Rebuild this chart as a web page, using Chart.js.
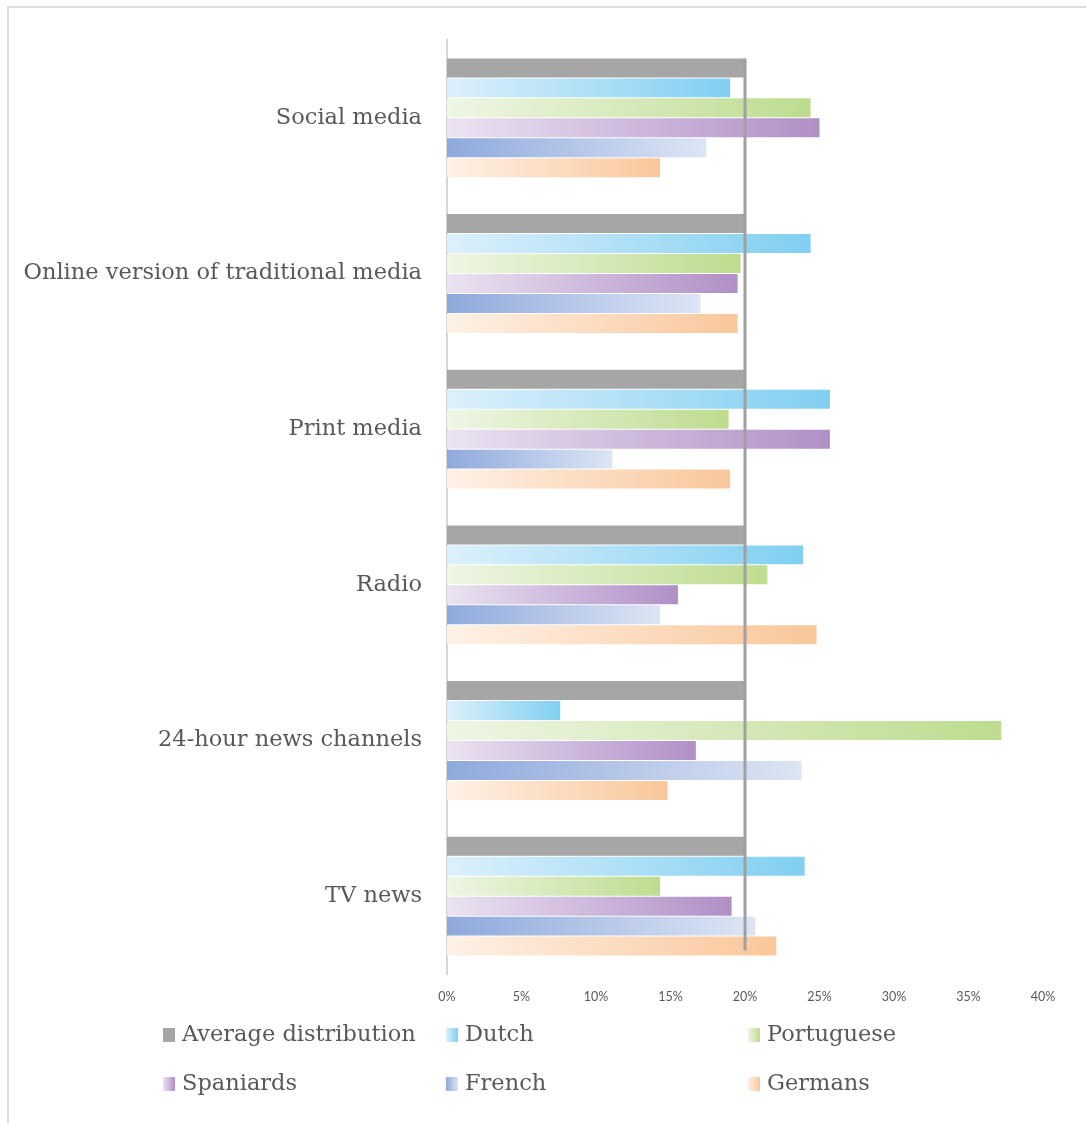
<!DOCTYPE html>
<html lang="en">
<head>
    <meta charset="UTF-8">
    <title>News sources by nationality</title>
    <script src="https://cdn.jsdelivr.net/npm/chart.js"></script>
    <style>
        html, body {
            margin: 0;
            background-color: #ffffff;
            overflow: hidden;
        }
        .page {
            width: 1086px;
            height: 1123px;
            position: relative;
            overflow: hidden;
        }
        .frame {
            position: absolute;
            left: 7px;
            top: 6px;
            width: 1300px;
            height: 1300px;
            border-left: 2px solid #dcdcdc;
            border-top: 2px solid #dcdcdc;
        }
        .chart-box {
            position: absolute;
            left: 0;
            top: 0;
            width: 1086px;
            height: 1014px;
        }
        #legend {
            position: absolute;
            left: 163px;
            top: 1008px;
            display: grid;
            grid-template-columns: 283px 302px 220px;
            grid-auto-rows: 49px;
            align-items: center;
            font-family: "DejaVu Serif", serif;
            font-size: 22.5px;
            color: #595959;
        }
        .swatch {
            display: inline-block;
            width: 12px;
            height: 14px;
            margin-right: 7px;
            vertical-align: -1px;
        }
    </style>
</head>
<body>
<div class="page">
    <div class="frame"></div>
    <div class="chart-box">
        <canvas id="newsChart"></canvas>
    </div>
    <div id="legend"></div>
</div>

    <script>
        const categories = ['Social media', 'Online version of traditional media', 'Print media', 'Radio', '24-hour news channels', 'TV news'];
        const seriesNames = ['Average distribution', 'Dutch', 'Portuguese', 'Spaniards', 'French', 'Germans'];

        // percentages per category, top to bottom
        const averageDistribution = [20, 20, 20, 20, 20, 20];
        const dutch      = [19.0, 24.4, 25.7, 23.9, 7.6, 24.0];
        const portuguese = [24.4, 19.7, 18.9, 21.5, 37.2, 14.3];
        const spaniards  = [25.0, 19.5, 25.7, 15.5, 16.7, 19.1];
        const french     = [17.4, 17.0, 11.1, 14.3, 23.8, 20.7];
        const germans    = [14.3, 19.5, 19.0, 24.8, 14.8, 22.1];

        const xMin = 0, xMax = 40, xStep = 5;
        const referenceValue = 20;

        // [left colour, right colour] for each series
        const colours = [
            ['#a6a6a6', '#a6a6a6'],
            ['#dcf0fb', '#80cff1'],
            ['#eef6e4', '#bddc8f'],
            ['#ebe3f1', '#b08fc6'],
            ['#8ea9dc', '#dde5f4'],
            ['#fef1e6', '#f9c79a']
        ];

        const seriesValues = [averageDistribution, dutch, portuguese, spaniards, french, germans];

        function barGradient(pair) {
            return (context) => {
                const chart = context.chart;
                const xScale = chart.scales.x;
                if (!chart.chartArea || !xScale || context.raw === undefined) return pair[1];
                const x0 = xScale.getPixelForValue(0);
                const x1 = xScale.getPixelForValue(context.raw);
                if (x1 - x0 < 1) return pair[1];
                const g = chart.ctx.createLinearGradient(x0, 0, x1, 0);
                g.addColorStop(0, pair[0]);
                g.addColorStop(1, pair[1]);
                return g;
            };
        }

        const referenceLine = {
            id: 'referenceLine',
            afterDatasetsDraw(chart) {
                const x = chart.scales.x.getPixelForValue(referenceValue);
                const firstBar = chart.getDatasetMeta(0).data[0];
                const lastMeta = chart.getDatasetMeta(seriesValues.length - 1).data;
                const lastBar = lastMeta[lastMeta.length - 1];
                const top = firstBar.y - firstBar.height / 2;
                const bottom = lastBar.y + lastBar.height / 2 - 5;
                const c = chart.ctx;
                c.save();
                c.strokeStyle = '#a0a0a0';
                c.lineWidth = 3;
                c.beginPath();
                c.moveTo(x, top);
                c.lineTo(x, bottom);
                c.stroke();
                c.restore();
            }
        };

        const ctx = document.getElementById('newsChart').getContext('2d');
        const newsChart = new Chart(ctx, {
            type: 'bar',
            data: {
                labels: categories,
                datasets: seriesNames.map((name, i) => ({
                    label: name,
                    data: seriesValues[i],
                    backgroundColor: barGradient(colours[i]),
                    borderWidth: 0,
                    categoryPercentage: 0.77,
                    barPercentage: 0.95
                }))
            },
            options: {
                indexAxis: 'y',
                animation: false,
                responsive: true,
                maintainAspectRatio: false,
                layout: {
                    padding: { top: 40, left: 0, right: 43, bottom: 0 }
                },
                plugins: {
                    legend: { display: false },
                    tooltip: { enabled: false }
                },
                scales: {
                    x: {
                        min: xMin,
                        max: xMax,
                        grid: { display: false, drawTicks: false },
                        border: { display: false },
                        ticks: {
                            stepSize: xStep,
                            padding: 15,
                            color: '#595959',
                            font: { family: 'Lato', size: 12.5 },
                            callback: (v) => v + '%'
                        },
                        afterFit: (s) => { s.height = 40; }
                    },
                    y: {
                        grid: { display: false, drawTicks: false },
                        border: { display: true, color: '#d6d6d6', width: 2 },
                        ticks: {
                            padding: 25,
                            color: '#595959',
                            font: { family: 'DejaVu Serif', size: 22.5 }
                        },
                        afterFit: (s) => { s.width = 447; }
                    }
                }
            },
            plugins: [referenceLine]
        });

        // legend in three columns, like the original
        const legend = document.getElementById('legend');
        seriesNames.forEach((name, i) => {
            const item = document.createElement('div');
            const sw = document.createElement('span');
            sw.className = 'swatch';
            sw.style.background = `linear-gradient(to right, ${colours[i][0]}, ${colours[i][1]})`;
            item.appendChild(sw);
            item.appendChild(document.createTextNode(name));
            legend.appendChild(item);
        });
    </script>
</body>
</html>
